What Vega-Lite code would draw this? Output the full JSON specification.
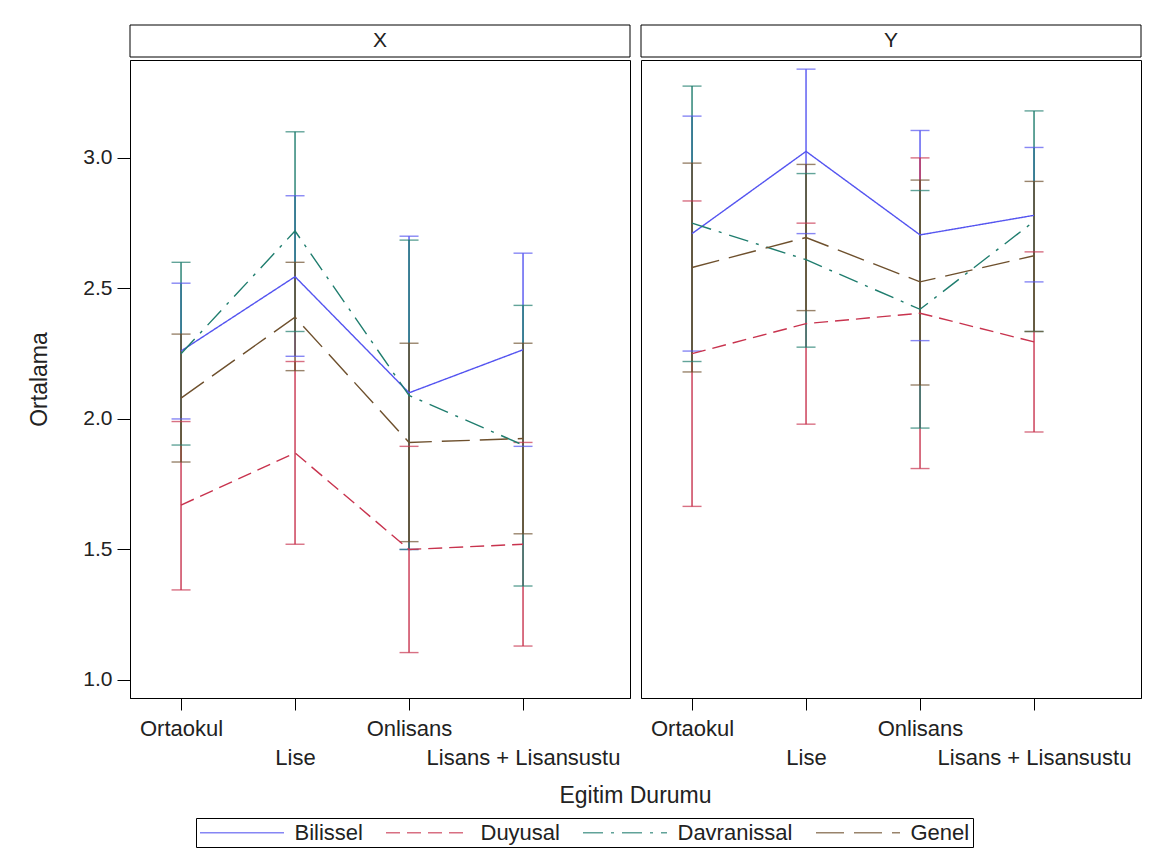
{
  "$schema": "https://vega.github.io/schema/vega-lite/v6.json",
  "background": "white",
  "padding": {"left": 28, "top": 24, "right": 5, "bottom": 5},
  "datasets": {
    "d": [
      {"panel": "X", "egitim": "Ortaokul", "boyut": "Bilissel", "ort": 2.26, "alt": 2.0, "ust": 2.52},
      {"panel": "X", "egitim": "Ortaokul", "boyut": "Duyusal", "ort": 1.67, "alt": 1.345, "ust": 1.99},
      {"panel": "X", "egitim": "Ortaokul", "boyut": "Davranissal", "ort": 2.25, "alt": 1.9, "ust": 2.6},
      {"panel": "X", "egitim": "Ortaokul", "boyut": "Genel", "ort": 2.08, "alt": 1.835, "ust": 2.325},
      {"panel": "X", "egitim": "Lise", "boyut": "Bilissel", "ort": 2.545, "alt": 2.24, "ust": 2.855},
      {"panel": "X", "egitim": "Lise", "boyut": "Duyusal", "ort": 1.87, "alt": 1.52, "ust": 2.22},
      {"panel": "X", "egitim": "Lise", "boyut": "Davranissal", "ort": 2.72, "alt": 2.335, "ust": 3.1},
      {"panel": "X", "egitim": "Lise", "boyut": "Genel", "ort": 2.39, "alt": 2.185, "ust": 2.6},
      {"panel": "X", "egitim": "Onlisans", "boyut": "Bilissel", "ort": 2.1, "alt": 1.5, "ust": 2.7},
      {"panel": "X", "egitim": "Onlisans", "boyut": "Duyusal", "ort": 1.5, "alt": 1.105, "ust": 1.895},
      {"panel": "X", "egitim": "Onlisans", "boyut": "Davranissal", "ort": 2.09, "alt": 1.5, "ust": 2.685},
      {"panel": "X", "egitim": "Onlisans", "boyut": "Genel", "ort": 1.91, "alt": 1.53, "ust": 2.29},
      {"panel": "X", "egitim": "Lisans + Lisansustu", "boyut": "Bilissel", "ort": 2.265, "alt": 1.895, "ust": 2.635},
      {"panel": "X", "egitim": "Lisans + Lisansustu", "boyut": "Duyusal", "ort": 1.52, "alt": 1.13, "ust": 1.91},
      {"panel": "X", "egitim": "Lisans + Lisansustu", "boyut": "Davranissal", "ort": 1.9, "alt": 1.36, "ust": 2.435},
      {"panel": "X", "egitim": "Lisans + Lisansustu", "boyut": "Genel", "ort": 1.925, "alt": 1.56, "ust": 2.29},
      {"panel": "Y", "egitim": "Ortaokul", "boyut": "Bilissel", "ort": 2.71, "alt": 2.26, "ust": 3.16},
      {"panel": "Y", "egitim": "Ortaokul", "boyut": "Duyusal", "ort": 2.25, "alt": 1.665, "ust": 2.835},
      {"panel": "Y", "egitim": "Ortaokul", "boyut": "Davranissal", "ort": 2.75, "alt": 2.22, "ust": 3.275},
      {"panel": "Y", "egitim": "Ortaokul", "boyut": "Genel", "ort": 2.58, "alt": 2.18, "ust": 2.98},
      {"panel": "Y", "egitim": "Lise", "boyut": "Bilissel", "ort": 3.025, "alt": 2.71, "ust": 3.34},
      {"panel": "Y", "egitim": "Lise", "boyut": "Duyusal", "ort": 2.365, "alt": 1.98, "ust": 2.75},
      {"panel": "Y", "egitim": "Lise", "boyut": "Davranissal", "ort": 2.61, "alt": 2.275, "ust": 2.94},
      {"panel": "Y", "egitim": "Lise", "boyut": "Genel", "ort": 2.695, "alt": 2.415, "ust": 2.975},
      {"panel": "Y", "egitim": "Onlisans", "boyut": "Bilissel", "ort": 2.705, "alt": 2.3, "ust": 3.105},
      {"panel": "Y", "egitim": "Onlisans", "boyut": "Duyusal", "ort": 2.405, "alt": 1.81, "ust": 3.0},
      {"panel": "Y", "egitim": "Onlisans", "boyut": "Davranissal", "ort": 2.42, "alt": 1.965, "ust": 2.875},
      {"panel": "Y", "egitim": "Onlisans", "boyut": "Genel", "ort": 2.525, "alt": 2.13, "ust": 2.915},
      {"panel": "Y", "egitim": "Lisans + Lisansustu", "boyut": "Bilissel", "ort": 2.78, "alt": 2.525, "ust": 3.04},
      {"panel": "Y", "egitim": "Lisans + Lisansustu", "boyut": "Duyusal", "ort": 2.295, "alt": 1.95, "ust": 2.64},
      {"panel": "Y", "egitim": "Lisans + Lisansustu", "boyut": "Davranissal", "ort": 2.757, "alt": 2.335, "ust": 3.18},
      {"panel": "Y", "egitim": "Lisans + Lisansustu", "boyut": "Genel", "ort": 2.625, "alt": 2.335, "ust": 2.91}
    ]
  },
  "vconcat": [
    {
      "bounds": "flush",
      "spacing": 11,
      "hconcat": [
        {
          "width": 500, "height": 32,
          "data": {"values": [{"panel": "X"}]},
          "layer": [
            {"mark": {"type": "rect", "fill": "white", "stroke": "black", "strokeWidth": 1}, "encoding": {}},
            {"mark": {"type": "text", "fontSize": 21, "font": "Liberation Sans", "color": "#222"}, "encoding": {"text": {"field": "panel"}}}
          ]
        },
        {
          "width": 500, "height": 32,
          "data": {"values": [{"panel": "Y"}]},
          "layer": [
            {"mark": {"type": "rect", "fill": "white", "stroke": "black", "strokeWidth": 1}, "encoding": {}},
            {"mark": {"type": "text", "fontSize": 21, "font": "Liberation Sans", "color": "#222"}, "encoding": {"text": {"field": "panel"}}}
          ]
        }
      ]
    },
    {
      "bounds": "flush",
      "spacing": 11,
      "hconcat": [
        {
          "width": 500, "height": 638,
          "data": {"name": "d"},
          "transform": [{"filter": "datum.panel == 'X'"}],
          "encoding": {
            "x": {
              "field": "egitim", "type": "ordinal",
              "sort": ["Ortaokul", "Lise", "Onlisans", "Lisans + Lisansustu"],
              "scale": {"type": "point", "padding": 0.693, "align": 0.323},
              "axis": {
                "title": "Egitim Durumu", "titleX": 505, "titleAlign": "center",
                "labelExpr": "(datum.value == 'Lise' || datum.value == 'Lisans + Lisansustu') ? ['', datum.value] : datum.value",
                "labelAngle": 0, "labelLineHeight": 29, "labelPadding": 8, "tickSize": 12, "labelFontSize": 22,
                "labelOverlap": false, "labelBound": false, "labelLimit": 0, "titlePadding": 16
              }
            },
            "color": {
              "field": "boyut", "type": "nominal",
              "scale": {"domain": ["Bilissel", "Duyusal", "Davranissal", "Genel"], "range": ["#5454F0", "#C8334E", "#1F7D6E", "#6E502D"]},
              "legend": {"title": null}
            }
          },
          "layer": [
            {
              "mark": {"type": "rule", "strokeWidth": 1.4},
              "encoding": {
                "y": {"field": "alt", "type": "quantitative", "scale": {"domain": [0.931, 3.375], "nice": false, "zero": false},
                      "axis": {"title": "Ortalama", "values": [1, 1.5, 2, 2.5, 3], "format": ".1f"}},
                "y2": {"field": "ust"}
              }
            },
            {
              "mark": {"type": "tick", "size": 19, "thickness": 1.4},
              "encoding": {"y": {"field": "alt", "type": "quantitative", "axis": {"title": "Ortalama", "values": [1, 1.5, 2, 2.5, 3], "format": ".1f"}}}
            },
            {
              "mark": {"type": "tick", "size": 19, "thickness": 1.4},
              "encoding": {"y": {"field": "ust", "type": "quantitative", "axis": {"title": "Ortalama", "values": [1, 1.5, 2, 2.5, 3], "format": ".1f"}}}
            },
            {
              "mark": {"type": "line", "strokeWidth": 1.4},
              "encoding": {
                "y": {"field": "ort", "type": "quantitative", "axis": {"title": "Ortalama", "values": [1, 1.5, 2, 2.5, 3], "format": ".1f"}},
                "strokeDash": {
                  "field": "boyut", "type": "nominal",
                  "scale": {"domain": ["Bilissel", "Duyusal", "Davranissal", "Genel"], "range": [[1, 0], [14, 7], [20, 8, 3, 8], [28, 10]]},
                  "legend": {"title": null}
                }
              }
            }
          ]
        },
        {
          "width": 500, "height": 638,
          "data": {"name": "d"},
          "transform": [{"filter": "datum.panel == 'Y'"}],
          "encoding": {
            "x": {
              "field": "egitim", "type": "ordinal",
              "sort": ["Ortaokul", "Lise", "Onlisans", "Lisans + Lisansustu"],
              "scale": {"type": "point", "padding": 0.693, "align": 0.323},
              "axis": {
                "title": null,
                "labelExpr": "(datum.value == 'Lise' || datum.value == 'Lisans + Lisansustu') ? ['', datum.value] : datum.value",
                "labelAngle": 0, "labelLineHeight": 29, "labelPadding": 8, "tickSize": 12, "labelFontSize": 22,
                "labelOverlap": false, "labelBound": false, "labelLimit": 0
              }
            },
            "color": {
              "field": "boyut", "type": "nominal",
              "scale": {"domain": ["Bilissel", "Duyusal", "Davranissal", "Genel"], "range": ["#5454F0", "#C8334E", "#1F7D6E", "#6E502D"]},
              "legend": {"title": null}
            }
          },
          "layer": [
            {
              "mark": {"type": "rule", "strokeWidth": 1.4},
              "encoding": {
                "y": {"field": "alt", "type": "quantitative", "axis": null, "scale": {"domain": [0.931, 3.375], "nice": false, "zero": false}},
                "y2": {"field": "ust"}
              }
            },
            {
              "mark": {"type": "tick", "size": 19, "thickness": 1.4},
              "encoding": {"y": {"field": "alt", "type": "quantitative", "axis": null}}
            },
            {
              "mark": {"type": "tick", "size": 19, "thickness": 1.4},
              "encoding": {"y": {"field": "ust", "type": "quantitative", "axis": null}}
            },
            {
              "mark": {"type": "line", "strokeWidth": 1.4},
              "encoding": {
                "y": {"field": "ort", "type": "quantitative", "axis": null},
                "strokeDash": {
                  "field": "boyut", "type": "nominal",
                  "scale": {"domain": ["Bilissel", "Duyusal", "Davranissal", "Genel"], "range": [[1, 0], [14, 7], [20, 8, 3, 8], [28, 10]]},
                  "legend": {"title": null}
                }
              }
            }
          ]
        }
      ]
    }
  ],
  "spacing": 1,
  "resolve": {
    "scale": {"color": "shared", "strokeDash": "shared"},
    "legend": {"color": "shared", "strokeDash": "shared"}
  },
  "config": {
    "font": "Liberation Sans",
    "view": {"stroke": "black", "strokeWidth": 1},
    "axis": {
      "domainColor": "black", "tickColor": "black", "grid": false,
      "labelColor": "#222", "titleColor": "#222",
      "labelFont": "Liberation Sans", "titleFont": "Liberation Sans",
      "labelFontSize": 21, "titleFontSize": 23, "titleFontWeight": "normal"
    },
    "axisY": {"tickSize": 13, "labelPadding": 5, "titlePadding": 31},
    "legend": {
      "orient": "bottom", "direction": "horizontal",
      "symbolType": "M-4,0H4", "symbolSize": 441, "symbolStrokeWidth": 1.4, "symbolOffset": 31.5,
      "labelFontSize": 22, "labelColor": "#222", "labelFont": "Liberation Sans",
      "strokeColor": "black", "padding": 3, "columnPadding": 20, "labelOffset": 41,
      "offset": 10,
      "layout": {"bottom": {"anchor": "middle"}}
    }
  }
}
